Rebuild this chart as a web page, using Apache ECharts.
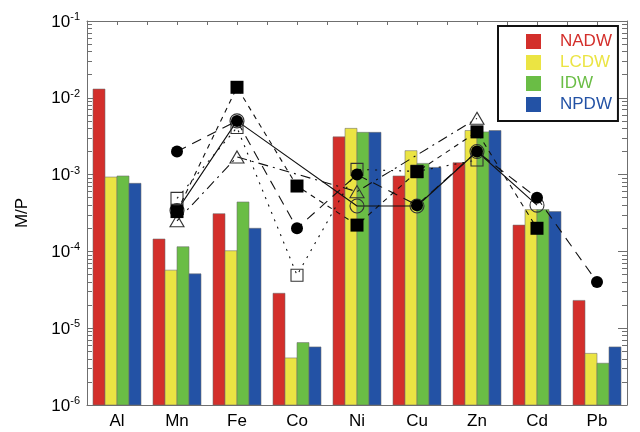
<!DOCTYPE html>
<html>
<head>
<meta charset="utf-8">
<script src="https://cdn.jsdelivr.net/npm/echarts@6/dist/echarts.min.js"></script>
<style>
html,body{margin:0;padding:0;background:#fff;}
#chart{width:640px;height:432px;}
</style>
</head>
<body>
<div id="chart"></div>
<script>
// ---- data ----
const categories = ['Al', 'Mn', 'Fe', 'Co', 'Ni', 'Cu', 'Zn', 'Cd', 'Pb'];
const seriesNames = ['NADW', 'LCDW', 'IDW', 'NPDW'];
const NADW = [1.3e-2, 1.45e-4, 3.1e-4, 2.85e-5, 3.1e-3, 9.6e-4, 1.43e-3, 2.2e-4, 2.3e-5];
const LCDW = [9.3e-4, 5.7e-5, 1.02e-4, 4.1e-6, 4.0e-3, 2.05e-3, 3.75e-3, 3.5e-4, 4.7e-6];
const IDW  = [9.6e-4, 1.15e-4, 4.4e-4, 6.5e-6, 3.55e-3, 1.4e-3, 3.6e-3, 3.5e-4, 3.5e-6];
const NPDW = [7.7e-4, 5.1e-5, 2.0e-4, 5.7e-6, 3.55e-3, 1.24e-3, 3.75e-3, 3.3e-4, 5.7e-6];
// overlay marker series (connected by lines)
const openCircle   = [null, 3.4e-4, 5.0e-3, null, 3.9e-4, 3.9e-4, 2.0e-3, 4.0e-4, null];
const openSquare   = [null, 4.9e-4, 4.1e-3, 4.9e-5, 1.17e-3, 1.1e-3, 1.55e-3, null, null];
const openTriangle = [null, 2.5e-4, 1.7e-3, null, 6.0e-4, null, 5.4e-3, null, null];
const filledSquare = [null, 3.3e-4, 1.37e-2, 7.1e-4, 2.2e-4, 1.09e-3, 3.6e-3, 2.0e-4, null];
const filledCircle = [null, 2.0e-3, 5.0e-3, 2.0e-4, 1.0e-3, 4.0e-4, 2.0e-3, 5.0e-4, 4.0e-5];
// y axis range (powers of ten)
const yMin = 1e-6, yMax = 1e-1;
const minorTickLog = [];
for (let e = -6; e < -1; e++) for (let k = 2; k <= 9; k++) minorTickLog.push(e + Math.log10(k));

const colors = ['#d32f2b', '#ebe443', '#6abd45', '#2352a5'];
const FONT = 'Liberation Sans, Arial, Helvetica, sans-serif';
const axisColor = '#6f6f6f';

const chart = echarts.init(document.getElementById('chart'), null, {renderer: 'canvas'});

const barData = [NADW, LCDW, IDW, NPDW];
const series = barData.map((d, i) => ({
  name: seriesNames[i],
  type: 'custom',
  data: d.map((v, j) => [j, v]),
  encode: {x: 0, y: 1},
  itemStyle: {color: colors[i]},
  z: 2,
  renderItem: function (params, api) {
    const ci = api.value(0);
    const v = api.value(1);
    const top = api.coord([ci, v]);
    const bottom = api.coord([ci, yMin]);
    const band = api.size([1, 0])[0];
    const bw = band * 0.2;
    const x = top[0] + (i - 2) * bw;
    return {
      type: 'rect',
      shape: {x: x, y: top[1], width: bw, height: bottom[1] - top[1]},
      style: {fill: colors[i], stroke: 'rgba(110,110,110,0.7)', lineWidth: 0.8}
    };
  }
}));

function lineSeries(data, symbol, size, fill, dash, zz) {
  return {
    type: 'line',
    data: data,
    connectNulls: true,
    symbol: symbol,
    symbolSize: size,
    showSymbol: true,
    showAllSymbol: true,
    lineStyle: {color: '#111', width: 1.1, type: dash},
    itemStyle: {color: fill, borderColor: fill === '#000' ? '#000' : '#333', borderWidth: fill === '#000' ? 0 : 1.1},
    emphasis: {disabled: true},
    z: zz
  };
}
series.push(lineSeries(openCircle, 'circle', 14, 'rgba(0,0,0,0)', 'solid', 3));
series.push(lineSeries(openSquare, 'rect', 12, 'rgba(0,0,0,0)', [2, 6], 4));
series.push(lineSeries(openTriangle, 'triangle', [14, 12], 'rgba(0,0,0,0)', [10, 5, 2, 5], 5));
series.push(lineSeries(filledSquare, 'rect', 13, '#000', [5, 5], 6));
series.push(lineSeries(filledCircle, 'circle', 12, '#000', [10, 7], 7));

const option = {
  animation: false,
  backgroundColor: '#fff',
  textStyle: {fontFamily: FONT},
  grid: {left: 87, right: 13, top: 21, bottom: 27},
  legend: {
    orient: 'vertical',
    left: 498,
    top: 26,
    width: 122,
    padding: [7, 6, 8, 28],
    itemWidth: 15,
    itemHeight: 15,
    itemGap: 4,
    borderColor: '#111',
    borderWidth: 2,
    backgroundColor: '#fff',
    icon: 'rect',
    itemStyle: {borderWidth: 0},
    textStyle: {fontSize: 17, fontFamily: FONT, padding: [0, 0, 0, 14]},
    data: seriesNames.map((n, i) => ({name: n, itemStyle: {color: colors[i]}, textStyle: {color: colors[i]}}))
  },
  xAxis: [{
    type: 'category',
    data: categories,
    position: 'bottom',
    axisLine: {onZero: false, lineStyle: {color: axisColor, width: 1}},
    axisTick: {inside: true, length: 6, alignWithLabel: false, lineStyle: {color: axisColor}},
    axisLabel: {fontSize: 17, color: '#000', margin: 8, fontFamily: FONT},
    splitLine: {show: false}
  }, {
    type: 'value',
    min: 0, max: 9, interval: 0.5,
    position: 'top',
    axisLine: {onZero: false, show: true, lineStyle: {color: axisColor, width: 1}},
    axisTick: {inside: true, length: 4, lineStyle: {color: axisColor}},
    axisLabel: {show: false},
    splitLine: {show: false}
  }],
  yAxis: [{
    type: 'log',
    logBase: 10,
    min: yMin, max: yMax,
    position: 'left',
    name: 'M/P',
    nameLocation: 'middle',
    nameGap: 56,
    nameTextStyle: {fontSize: 17, color: '#000', fontFamily: FONT},
    axisLine: {show: true, onZero: false, lineStyle: {color: axisColor, width: 1}},
    axisTick: {inside: true, length: 9, lineStyle: {color: axisColor}},
    axisLabel: {
      margin: 7,
      formatter: v => '{b|10}{e|' + Math.round(Math.log10(v)) + '}',
      rich: {
        b: {fontSize: 17, color: '#000', fontFamily: FONT, verticalAlign: 'bottom'},
        e: {fontSize: 11, color: '#000', fontFamily: FONT, verticalAlign: 'bottom', padding: [0, 0, 8, 0]}
      }
    },
    splitLine: {show: false}
  }, {
    type: 'log',
    logBase: 10,
    min: yMin, max: yMax,
    position: 'right',
    axisLine: {show: true, onZero: false, lineStyle: {color: axisColor, width: 1}},
    axisTick: {inside: true, length: 9, lineStyle: {color: axisColor}},
    axisLabel: {show: false},
    splitLine: {show: false}
  }, {
    type: 'value',
    min: -6, max: -1,
    position: 'left',
    axisLine: {show: false, onZero: false},
    axisTick: {show: true, inside: true, length: 5, customValues: minorTickLog, lineStyle: {color: axisColor}},
    axisLabel: {show: false},
    splitLine: {show: false}
  }, {
    type: 'value',
    min: -6, max: -1,
    position: 'right',
    axisLine: {show: false, onZero: false},
    axisTick: {show: true, inside: true, length: 5, customValues: minorTickLog, lineStyle: {color: axisColor}},
    axisLabel: {show: false},
    splitLine: {show: false}
  }],
  series: series
};
chart.setOption(option);
</script>
</body>
</html>
